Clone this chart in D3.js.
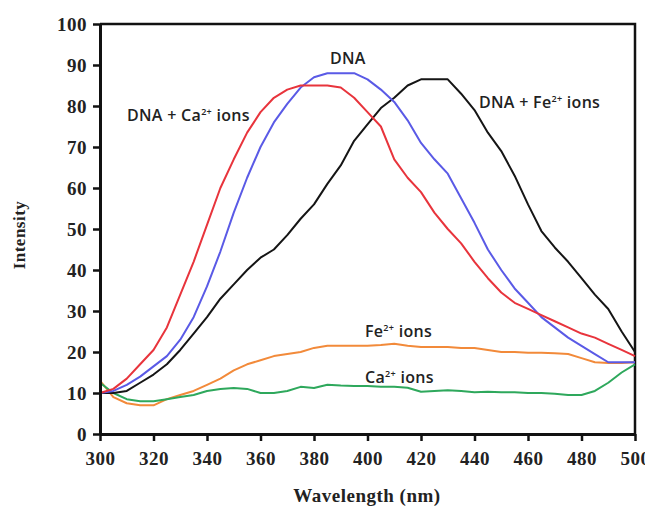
<!DOCTYPE html>
<html>
<head>
<meta charset="utf-8">
<script src="https://cdn.jsdelivr.net/npm/d3@7"></script>
<style>
  body { margin: 0; background: #fff; }
</style>
</head>
<body>
<div id="graph-div"></div>
<script>
// wavelength grid (nm), 5 nm steps
const wavelengths = d3.range(300, 501, 5);

const dnaCa = [10, 11, 13.5, 17, 20.5, 26, 34, 42, 51, 60, 67, 73.5, 78.5, 82, 84, 85, 85, 85, 84.5, 82, 78.5,
               75, 67, 62.5, 59, 54, 50, 46.5, 42, 38, 34.5, 32, 30.5, 29, 27.5, 26, 24.5, 23.5, 22, 20.5, 19];
const dna = [10, 10.5, 12, 14, 16.5, 19, 23, 28.5, 36, 44.5, 54, 62.5, 70, 76, 80.5, 84.5, 87, 88, 88, 88, 86.5,
             84, 81, 76.5, 71, 67, 63.5, 57.5, 51.5, 45, 40, 35.5, 32, 28.5, 26, 23.5, 21.5, 19.5, 17.5, 17.5, 17.5];
const dnaFe = [10, 10, 10.5, 12.5, 14.5, 17, 20.5, 24.5, 28.5, 33, 36.5, 40, 43, 45, 48.5, 52.5, 56, 61, 65.5, 71.5, 75.5,
               79.5, 82, 85, 86.5, 86.5, 86.5, 83, 79, 73.5, 69, 63, 56, 49.5, 45.5, 42, 38, 34, 30.5, 25, 20];
const feIons = [13, 9, 7.5, 7, 7, 8.5, 9.5, 10.5, 12, 13.5, 15.5, 17, 18, 19, 19.5, 20, 21, 21.5, 21.5, 21.5, 21.5,
                21.7, 22, 21.5, 21.2, 21.2, 21.2, 21, 21, 20.5, 20, 20, 19.8, 19.8, 19.7, 19.5, 18.5, 17.5, 17.3, 17.3, 17.5];
const caIons = [12.5, 10, 8.5, 8, 8, 8.5, 9, 9.5, 10.5, 11, 11.2, 11, 10, 10, 10.5, 11.5, 11.2, 12, 11.8, 11.7, 11.7,
                11.5, 11.5, 11.3, 10.3, 10.5, 10.7, 10.5, 10.2, 10.3, 10.2, 10.2, 10, 10, 9.8, 9.5, 9.5, 10.5, 12.5, 15, 17];

const xTicks = d3.range(300, 501, 20);
const yTicks = d3.range(0, 101, 10);

const series = [
    {values: feIons, color: '#f28a3a'},
    {values: caIons, color: '#2ea85c'},
    {values: dnaFe, color: '#151515'},
    {values: dna, color: '#5a5ae6'},
    {values: dnaCa, color: '#e8343c'}
];

// [text before superscript, superscript, text after, x, y]
const labels = [
    ['DNA + Ca', '2+', ' ions', 127, 121],
    ['DNA', '', '', 330, 64],
    ['DNA + Fe', '2+', ' ions', 479, 108],
    ['Fe', '2+', ' ions', 365, 337],
    ['Ca', '2+', ' ions', 365, 383]
];

const w = 645;
const h = 506;
const margin = {top: 24, right: 10, bottom: 72, left: 100};
const serif = '"Liberation Serif", "DejaVu Serif", serif';

const svg = d3.select('#graph-div')
              .append('svg')
              .attr('width', w)
              .attr('height', h);

const xScale = d3.scaleLinear()
                 .domain([300, 500])
                 .range([margin.left, w - margin.right]);

const yScale = d3.scaleLinear()
                 .domain([0, 100])
                 .range([h - margin.bottom, margin.top]);

// frame (top + right)
svg.append('path')
   .attr('d', `M${xScale(300)},${yScale(100)}H${xScale(500)}V${yScale(0)}`)
   .attr('fill', 'none')
   .attr('stroke', '#111')
   .attr('stroke-width', 2.5);

const line = d3.line()
               .x((d, i) => xScale(wavelengths[i]))
               .y(d => yScale(d));

svg.selectAll('.curve')
   .data(series)
   .enter()
   .append('path')
   .attr('class', 'curve')
   .attr('d', d => line(d.values))
   .attr('fill', 'none')
   .attr('stroke', d => d.color)
   .attr('stroke-width', 2)
   .attr('stroke-linejoin', 'round');

const xAxis = d3.axisBottom(xScale).tickValues(xTicks).tickSize(7).tickSizeOuter(0);
const yAxis = d3.axisLeft(yScale).tickValues(yTicks).tickSize(7).tickSizeOuter(0);

const styleAxis = (g) => {
    g.select('.domain').attr('stroke', '#111').attr('stroke-width', 3);
    g.selectAll('.tick line').attr('stroke', '#111').attr('stroke-width', 2.5);
    g.selectAll('.tick text')
     .attr('fill', '#222')
     .style('font-family', serif)
     .style('font-weight', 'bold')
     .style('font-size', '19px')
     .style('letter-spacing', '0.5px');
};

svg.append('g')
   .attr('id', 'x-axis')
   .attr('transform', `translate(0, ${h - margin.bottom})`)
   .call(xAxis)
   .call(styleAxis)
   .selectAll('.tick text')
   .attr('y', 18);

svg.append('g')
   .attr('id', 'y-axis')
   .attr('transform', `translate(${margin.left}, 0)`)
   .call(yAxis)
   .call(styleAxis)
   .selectAll('.tick text')
   .attr('x', -13);

svg.append('text')
   .attr('x', 367)
   .attr('y', 502)
   .attr('text-anchor', 'middle')
   .style('font-family', serif)
   .style('font-weight', 'bold')
   .style('font-size', '19px')
   .style('letter-spacing', '0.5px')
   .attr('fill', '#222')
   .text('Wavelength (nm)');

svg.append('text')
   .attr('transform', 'translate(25, 235) rotate(-90)')
   .attr('text-anchor', 'middle')
   .style('font-family', serif)
   .style('font-weight', 'bold')
   .style('font-size', '17px')
   .style('letter-spacing', '0.5px')
   .attr('fill', '#222')
   .text('Intensity');

const lab = svg.selectAll('.label')
               .data(labels)
               .enter()
               .append('text')
               .attr('class', 'label')
               .attr('x', d => d[3])
               .attr('y', d => d[4])
               .style('font-family', '"Open Sans", "Liberation Sans", sans-serif')
               .style('font-weight', '600')
               .style('font-size', '16px')
               .style('letter-spacing', '0.3px')
               .attr('fill', '#222');

lab.append('tspan').text(d => d[0]);
lab.append('tspan')
   .attr('dy', '-6')
   .style('font-size', '9px')
   .text(d => d[1]);
lab.append('tspan')
   .attr('dy', d => d[1] ? '6' : '0')
   .text(d => d[2]);
</script>
</body>
</html>
